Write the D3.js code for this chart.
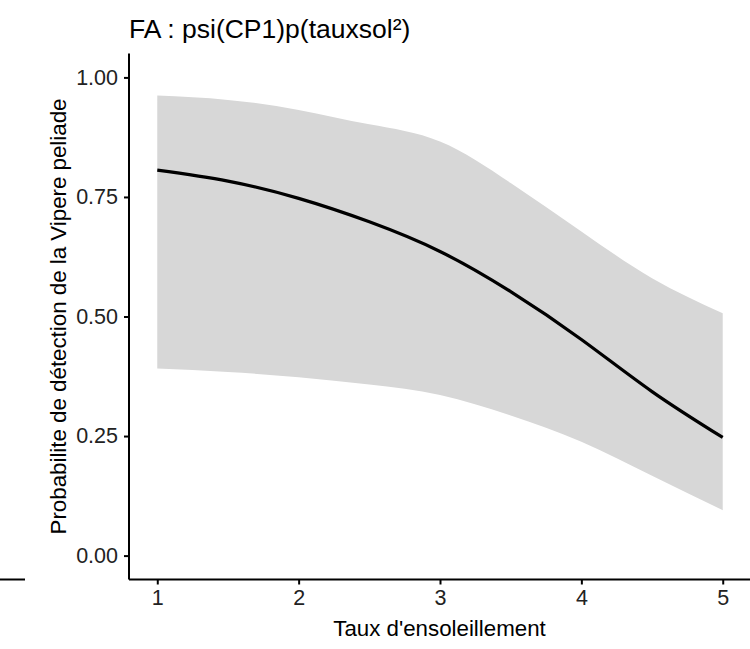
<!DOCTYPE html>
<html>
<head>
<meta charset="utf-8">
<script src="https://cdn.jsdelivr.net/npm/d3@7"></script>
<style>
  body { margin: 0; background: #fff; }
  svg text { font-family: "Liberation Sans", Arial, sans-serif; }
</style>
</head>
<body>
<div id="canvas"></div>
<script>
// values
var tauxsol = [1, 1.5, 2, 2.5, 3, 3.5, 4, 4.5, 5];
var predicted = [0.806, 0.783, 0.747, 0.698, 0.636, 0.552, 0.452, 0.343, 0.247];
var upper = [0.962, 0.953, 0.932, 0.902, 0.866, 0.779, 0.678, 0.580, 0.507];
var lower = [0.391, 0.384, 0.373, 0.358, 0.336, 0.293, 0.238, 0.167, 0.095];
var xTicks = [1, 2, 3, 4, 5];
var yTicks = [0, 0.25, 0.5, 0.75, 1];

var W = 750, H = 649;
var margin = { top: 53.5, right: -1, bottom: 69.5, left: 129 };

var svg = d3.select("#canvas").append("svg")
  .attr("width", W)
  .attr("height", H);

var data = tauxsol.map(function(t, i) {
  return { x: t, y: predicted[i], lo: lower[i], hi: upper[i] };
});

// scales (ggplot style 5% expansion)
var x = d3.scaleLinear().domain([0.8, 5.2]).range([margin.left, W - margin.right]);
var y = d3.scaleLinear().domain([-0.05, 1.05]).range([H - margin.bottom, margin.top]);

// confidence band
svg.append("path")
  .datum(data)
  .attr("fill", "#d7d7d7")
  .attr("d", d3.area()
    .x(function(d) { return x(d.x); })
    .y0(function(d) { return y(d.lo); })
    .y1(function(d) { return y(d.hi); })
    .curve(d3.curveNatural));

// prediction line
svg.append("path")
  .datum(data)
  .attr("fill", "none")
  .attr("stroke", "#000")
  .attr("stroke-width", 3.2)
  .attr("d", d3.line()
    .x(function(d) { return x(d.x); })
    .y(function(d) { return y(d.y); })
    .curve(d3.curveNatural));

// x axis
var xAxis = svg.append("g")
  .attr("transform", "translate(0," + (H - margin.bottom) + ")")
  .call(d3.axisBottom(x).tickValues(xTicks).tickSize(5).tickPadding(5).tickFormat(d3.format("d")));

// y axis
var yAxis = svg.append("g")
  .attr("transform", "translate(" + margin.left + ",0)")
  .call(d3.axisLeft(y).tickValues(yTicks).tickSize(5).tickPadding(6).tickFormat(d3.format(".2f")));

[xAxis, yAxis].forEach(function(g) {
  g.select(".domain").attr("stroke", "#000").attr("stroke-width", 2);
  g.selectAll(".tick line").attr("stroke", "#000").attr("stroke-width", 2);
  g.selectAll(".tick text").attr("fill", "#222").style("font-size", "21.5px");
});
// no outer ticks
xAxis.select(".domain").attr("d", "M" + margin.left + ",0H" + W);
yAxis.select(".domain").attr("d", "M0," + margin.top + "V" + (H - margin.bottom));

// stray line at the left edge
svg.append("line")
  .attr("x1", 0).attr("x2", 25)
  .attr("y1", H - margin.bottom).attr("y2", H - margin.bottom)
  .attr("stroke", "#000").attr("stroke-width", 2);

// title
svg.append("text")
  .attr("x", margin.left)
  .attr("y", 38)
  .style("font-size", "26.5px")
  .attr("fill", "#000")
  .text("FA : psi(CP1)p(tauxsol²)");

// axis titles
svg.append("text")
  .attr("x", (margin.left + W) / 2)
  .attr("y", 636)
  .attr("text-anchor", "middle")
  .style("font-size", "22.3px")
  .text("Taux d'ensoleillement");

svg.append("text")
  .attr("transform", "translate(66," + ((margin.top + H - margin.bottom) / 2) + ") rotate(-90)")
  .attr("text-anchor", "middle")
  .style("font-size", "22.3px")
  .text("Probabilite de détection de la Vipere peliade");
</script>
</body>
</html>
